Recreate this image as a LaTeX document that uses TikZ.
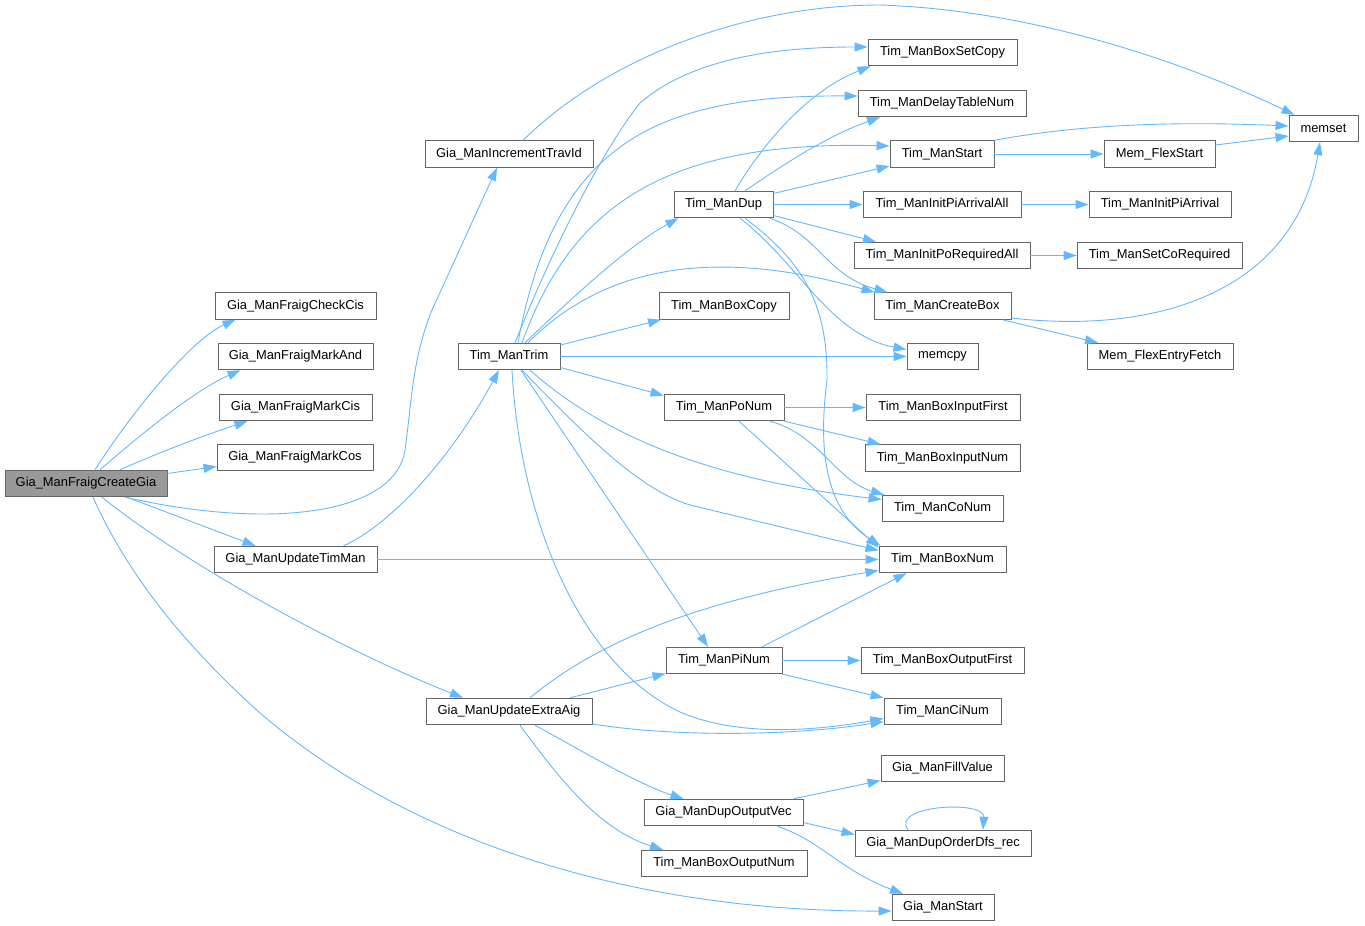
\documentclass[tikz,border=0pt]{standalone}
\usepackage{fontspec}
\setmainfont{Liberation Sans}
\usetikzlibrary{arrows.meta}
\definecolor{edgeblue}{HTML}{63B8FF}
\definecolor{boxline}{HTML}{666666}
\definecolor{mainfill}{HTML}{999999}
\begin{document}
\begin{tikzpicture}[x=1pt,y=-1pt,
  box/.style={draw=boxline, line width=0.9pt, fill=white, inner sep=0pt,
    minimum height=26.5pt, font=\fontsize{12.9}{15}\selectfont, text=black},
  mainbox/.style={box, fill=mainfill},
  edge/.style={draw=edgeblue, line width=0.9pt, -{Triangle[length=13pt,width=9pt]}}]
\useasboundingbox (0,0) rectangle (1365,926);
% column 1
\node[mainbox, minimum width=162pt] (A) at (86,483.5) {Gia\_ManFraigCreateGia};
% column 2
\node[box, minimum width=161pt] (N1) at (295.5,306) {Gia\_ManFraigCheckCis};
\node[box, minimum width=155pt] (N2) at (295.5,356.5) {Gia\_ManFraigMarkAnd};
\node[box, minimum width=153pt] (N3) at (295.5,407.5) {Gia\_ManFraigMarkCis};
\node[box, minimum width=156pt] (N4) at (295,457.5) {Gia\_ManFraigMarkCos};
\node[box, minimum width=163pt] (B) at (295.5,559.5) {Gia\_ManUpdateTimMan};
% column 3
\node[box, minimum width=168pt] (I) at (509,154) {Gia\_ManIncrementTravId};
\node[box, minimum width=102pt] (T) at (509,356.5) {Tim\_ManTrim};
\node[box, minimum width=166pt] (E) at (509,711.5) {Gia\_ManUpdateExtraAig};
% column 4
\node[box, minimum width=99pt] (D) at (723.5,204.5) {Tim\_ManDup};
\node[box, minimum width=130pt] (BC) at (724,306) {Tim\_ManBoxCopy};
\node[box, minimum width=120pt] (P) at (724,407.5) {Tim\_ManPoNum};
\node[box, minimum width=116pt] (Q) at (724,660.5) {Tim\_ManPiNum};
\node[box, minimum width=159pt] (V) at (723.5,812.5) {Gia\_ManDupOutputVec};
\node[box, minimum width=166pt] (BON) at (724,863.5) {Tim\_ManBoxOutputNum};
% column 5
\node[box, minimum width=149pt] (BSC) at (942.5,52.5) {Tim\_ManBoxSetCopy};
\node[box, minimum width=168pt] (DTN) at (942,103.5) {Tim\_ManDelayTableNum};
\node[box, minimum width=104pt] (TS) at (942,154) {Tim\_ManStart};
\node[box, minimum width=158pt] (PAA) at (942,204.5) {Tim\_ManInitPiArrivalAll};
\node[box, minimum width=176pt] (PRA) at (942,255.5) {Tim\_ManInitPoRequiredAll};
\node[box, minimum width=137pt] (CB) at (942.5,306) {Tim\_ManCreateBox};
\node[box, minimum width=71pt] (MC) at (942.5,356.5) {memcpy};
\node[box, minimum width=154pt] (BIF) at (943,407.5) {Tim\_ManBoxInputFirst};
\node[box, minimum width=155pt] (BIN) at (942.5,458) {Tim\_ManBoxInputNum};
\node[box, minimum width=121pt] (CO) at (942.5,508.5) {Tim\_ManCoNum};
\node[box, minimum width=127pt] (BN) at (942.5,559.5) {Tim\_ManBoxNum};
\node[box, minimum width=163pt] (BOF) at (942.5,660.5) {Tim\_ManBoxOutputFirst};
\node[box, minimum width=117pt] (CI) at (942.5,711.5) {Tim\_ManCiNum};
\node[box, minimum width=123pt] (FV) at (942.5,768.5) {Gia\_ManFillValue};
\node[box, minimum width=176pt] (DFS) at (943,843.5) {Gia\_ManDupOrderDfs\_rec};
\node[box, minimum width=102pt] (GS) at (943,907.5) {Gia\_ManStart};
% column 6
\node[box, minimum width=111pt] (FS) at (1159.5,154) {Mem\_FlexStart};
\node[box, minimum width=142pt] (PA) at (1160,204.5) {Tim\_ManInitPiArrival};
\node[box, minimum width=165pt] (SCR) at (1159.5,255.5) {Tim\_ManSetCoRequired};
\node[box, minimum width=146pt] (FEF) at (1160,356.5) {Mem\_FlexEntryFetch};
% column 7
\node[box, minimum width=69pt] (MS) at (1323.5,128.5) {memset};

% edges from Gia_ManFraigCreateGia
\draw[edge] ([shift={(9,0)}]A.north) .. controls (130,415) and (190,340) .. ([shift={(-60,0)}]N1.south);
\draw[edge] ([shift={(14,0)}]A.north) .. controls (140,435) and (195,390) .. ([shift={(-55,0)}]N2.south);
\draw[edge] ([shift={(34,0)}]A.north) .. controls (160,452) and (205,435) .. ([shift={(-48,0)}]N3.south);
\draw[edge] ([shift={(0,-10)}]A.east) -- ([shift={(0,9)}]N4.west);
\draw[edge] ([shift={(39,0)}]A.south) .. controls (270,530) and (395,515) .. (405,450) .. controls (412,400) and (412,360) .. (432,310) -- ([shift={(-12,0)}]I.south);
\draw[edge] ([shift={(41,0)}]A.south) -- ([shift={(-40,0)}]B.north);
\draw[edge] ([shift={(16,0)}]A.south) .. controls (180,560) and (330,645) .. ([shift={(-46,0)}]E.north);
\draw[edge] ([shift={(7,0)}]A.south) .. controls (130,580) and (190,650) .. (260,713) .. controls (420,850) and (650,912) .. ([shift={(0,3.5)}]GS.west);

% Gia_ManIncrementTravId
\draw[edge] ([shift={(14,0)}]I.north) .. controls (610,55) and (750,5) .. (880,5) .. controls (1030,10) and (1180,60) .. ([shift={(-29,0)}]MS.north);

% Gia_ManUpdateTimMan
\draw[edge] ([shift={(48,0)}]B.north) .. controls (390,525) and (450,460) .. ([shift={(-10,0)}]T.south);
\draw[edge] (B.east) -- (BN.west);

% Tim_ManTrim
\draw[edge] ([shift={(6,0)}]T.north) .. controls (560,230) and (610,140) .. (640,103) .. controls (690,60) and (770,47) .. ([shift={(0,-5.5)}]BSC.west);
\draw[edge] ([shift={(9,0)}]T.north) .. controls (555,140) and (660,95) .. ([shift={(0,-7.5)}]DTN.west);
\draw[edge] ([shift={(13,0)}]T.north) .. controls (570,210) and (660,140) .. ([shift={(0,-8)}]TS.west);
\draw[edge] ([shift={(16,0)}]T.north) .. controls (580,290) and (630,245) .. ([shift={(-45,0)}]D.south);
\draw[edge] ([shift={(19,0)}]T.north) .. controls (590,280) and (690,240) .. ([shift={(-68,0)}]CB.north);
\draw[edge] ([shift={(0,-11.5)}]T.east) -- ([shift={(-63,0)}]BC.south);
\draw[edge] (T.east) -- (MC.west);
\draw[edge] ([shift={(0,11)}]T.east) -- ([shift={(0,-12)}]P.west);
\draw[edge] ([shift={(21,0)}]T.south) .. controls (600,432) and (700,478) .. ([shift={(0,-9)}]CO.west);
\draw[edge] ([shift={(13,0)}]T.south) .. controls (585,435) and (640,490) .. (690,505) -- ([shift={(0,-9)}]BN.west);
\draw[edge] ([shift={(12,0)}]T.south) -- ([shift={(-16,0)}]Q.north);
\draw[edge] ([shift={(3,0)}]T.south) .. controls (520,520) and (580,665) .. (680,712) .. controls (740,738) and (820,730) .. ([shift={(0,7)}]CI.west);

% Tim_ManDup
\draw[edge] ([shift={(11.5,0)}]D.north) .. controls (765,140) and (810,90) .. ([shift={(-72,0)}]BSC.south);
\draw[edge] ([shift={(21.5,0)}]D.north) .. controls (790,160) and (830,135) .. ([shift={(-62,0)}]DTN.south);
\draw[edge] ([shift={(0,-11)}]D.east) -- ([shift={(0,12)}]TS.west);
\draw[edge] (D.east) -- (PAA.west);
\draw[edge] ([shift={(0,11)}]D.east) -- ([shift={(-66,0)}]PRA.north);
\draw[edge] ([shift={(46,0)}]D.south) .. controls (820,235) and (825,275) .. ([shift={(-55,0)}]CB.north);
\draw[edge] ([shift={(16.5,0)}]D.south) .. controls (800,265) and (830,335) .. ([shift={(0,-7)}]MC.west);
\draw[edge] ([shift={(21.5,0)}]D.south) .. controls (800,260) and (828,300) .. (827,380) .. controls (818,450) and (825,510) .. ([shift={(-62,0)}]BN.north);

% Tim_ManStart, Mem_FlexStart, Init, CreateBox
\draw[edge] (TS.north east) .. controls (1060,128) and (1150,120) .. ([shift={(0,-2.5)}]MS.west);
\draw[edge] (TS.east) -- (FS.west);
\draw[edge] ([shift={(0,-9)}]FS.east) -- ([shift={(0,7.5)}]MS.west);
\draw[edge] (PAA.east) -- (PA.west);
\draw[edge] (PRA.east) -- (SCR.west);
\draw[edge] ([shift={(0,12)}]CB.east) .. controls (1160,335) and (1295,290) .. ([shift={(-3.5,0)}]MS.south);
\draw[edge] ([shift={(60,0)}]CB.south) -- ([shift={(-62,0)}]FEF.north);

% Tim_ManPoNum
\draw[edge] (P.east) -- (BIF.west);
\draw[edge] (P.south east) -- ([shift={(-62,0)}]BIN.north);
\draw[edge] ([shift={(46,0)}]P.south) .. controls (820,435) and (835,480) .. ([shift={(-58.5,0)}]CO.north);
\draw[edge] ([shift={(15,0)}]P.south) -- ([shift={(0,-12)}]BN.west);

% Tim_ManPiNum
\draw[edge] ([shift={(38,0)}]Q.north) -- ([shift={(-36,0)}]BN.south);
\draw[edge] (Q.east) -- (BOF.west);
\draw[edge] (Q.south east) -- (CI.north west);

% Gia_ManUpdateExtraAig
\draw[edge] ([shift={(21,0)}]E.north) .. controls (600,640) and (700,600) .. ([shift={(0,11)}]BN.west);
\draw[edge] ([shift={(61,0)}]E.north) -- ([shift={(0,13)}]Q.west);
\draw[edge] ([shift={(0,12.5)}]E.east) .. controls (680,738) and (800,735) .. ([shift={(0,10)}]CI.west);
\draw[edge] ([shift={(26,0)}]E.south) .. controls (580,750) and (640,785) .. ([shift={(-40,0)}]V.north);
\draw[edge] ([shift={(11,0)}]E.south) .. controls (560,780) and (600,830) .. ([shift={(-61,0)}]BON.north);

% Gia_ManDupOutputVec
\draw[edge] ([shift={(70,0)}]V.north) -- ([shift={(0,12)}]FV.west);
\draw[edge] ([shift={(0,10)}]V.east) -- ([shift={(0,-9)}]DFS.west);
\draw[edge] ([shift={(53.5,0)}]V.south) .. controls (820,840) and (840,870) .. ([shift={(-40,0)}]GS.north);
\draw[edge] ([shift={(-35,0)}]DFS.north) .. controls (890,805) and (985,800) .. ([shift={(40,0)}]DFS.north);
\end{tikzpicture}
\end{document}
